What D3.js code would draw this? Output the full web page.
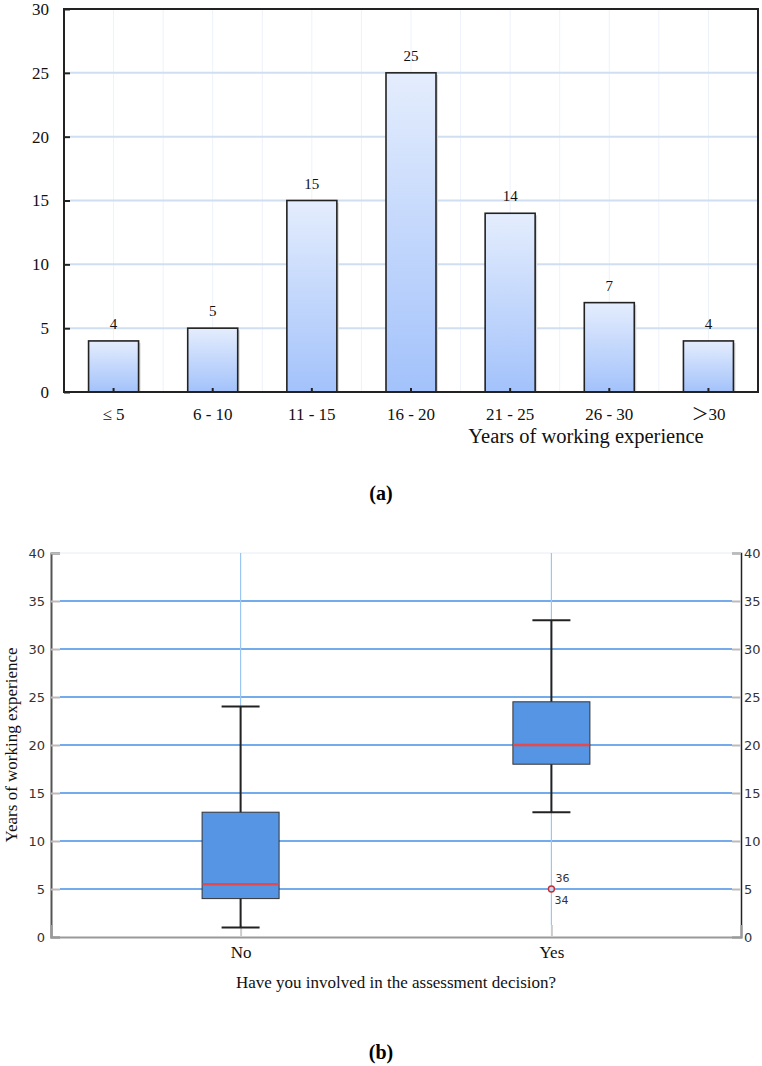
<!DOCTYPE html>
<html lang="en">
<head>
<meta charset="UTF-8">
<title>Years of working experience</title>
<script src="https://d3js.org/d3.v7.min.js"></script>
<style>
  body { margin: 0; background: #fff; }
  .serif { font-family: "Liberation Serif", "Times New Roman", serif; }
  .sans { font-family: "DejaVu Sans", sans-serif; }
</style>
</head>
<body>
<div id="chart"></div>
<script>
// (a) histogram of years of working experience
var expCats = ["≤ 5", "6 - 10", "11 - 15", "16 - 20", "21 - 25", "26 - 30", "＞30"];
var expCounts = [4, 5, 15, 25, 14, 7, 4];
var yTicksA = [0, 5, 10, 15, 20, 25, 30];

// (b) box plot by involvement in the assessment decision
var boxGroups = ["No", "Yes"];
var boxMin = [1, 13];
var boxQ1 = [4, 18];
var boxMed = [5.5, 20];
var boxQ3 = [13, 24.5];
var boxMax = [24, 33];
var outlierGroup = ["Yes"];
var outlierVal = [5];
var outlierIds = ["36", "34"];
var yTicksB = [0, 5, 10, 15, 20, 25, 30, 35, 40];

var svg = d3.select("#chart").append("svg")
    .attr("width", 762).attr("height", 1066);

var defs = svg.append("defs");
var grad = defs.append("linearGradient").attr("id", "barGrad")
    .attr("x1", 0).attr("y1", 0).attr("x2", 0).attr("y2", 1);
grad.append("stop").attr("offset", "0%").attr("stop-color", "#e4edfd");
grad.append("stop").attr("offset", "100%").attr("stop-color", "#a3c2fb");

// ---------- chart (a) ----------
var a = {left: 64, right: 758, top: 9, bottom: 392};

var xA = d3.scaleBand().domain(expCats).range([a.left, a.right]).padding(0);
var yA = d3.scaleLinear().domain([0, 30]).range([a.bottom, a.top]);
var bw = 50;

var gA = svg.append("g");

// faint vertical grid at every half band
var halfSteps = d3.range(0, expCats.length * 2 + 1);
gA.selectAll(".vgrid").data(halfSteps).enter().append("line")
    .attr("x1", function(d){ return a.left + d * xA.step() / 2; })
    .attr("x2", function(d){ return a.left + d * xA.step() / 2; })
    .attr("y1", a.top).attr("y2", a.bottom)
    .attr("stroke", "#edf2fa").attr("stroke-width", 1);

// horizontal grid
gA.selectAll(".hgrid").data(yTicksA.slice(1, -1)).enter().append("line")
    .attr("x1", a.left + 6).attr("x2", a.right)
    .attr("y1", function(d){ return yA(d); })
    .attr("y2", function(d){ return yA(d); })
    .attr("stroke", "#d0def2").attr("stroke-width", 2);

// faint shadow behind bars
gA.selectAll(".shadow").data(expCounts).enter().append("rect")
    .attr("x", function(d, i){ return xA(expCats[i]) + xA.bandwidth() / 2 - bw / 2 + 2; })
    .attr("y", function(d){ return yA(d) + 2; })
    .attr("width", bw)
    .attr("height", function(d){ return yA(0) - yA(d) - 2; })
    .attr("fill", "#d8d8d8");

// bars
gA.selectAll(".bar").data(expCounts).enter().append("rect")
    .attr("x", function(d, i){ return xA(expCats[i]) + xA.bandwidth() / 2 - bw / 2; })
    .attr("y", function(d){ return yA(d); })
    .attr("width", bw)
    .attr("height", function(d){ return yA(0) - yA(d); })
    .attr("fill", "url(#barGrad)")
    .attr("stroke", "#222").attr("stroke-width", 1.6);

// value labels
gA.selectAll(".val").data(expCounts).enter().append("text")
    .attr("class", "serif")
    .attr("x", function(d, i){ return xA(expCats[i]) + xA.bandwidth() / 2; })
    .attr("y", function(d){ return yA(d) - 12; })
    .attr("text-anchor", "middle")
    .attr("font-size", 15)
    .attr("fill", "#111")
    .text(function(d){ return d; });

// frame
gA.append("rect")
    .attr("x", a.left).attr("y", a.top)
    .attr("width", a.right - a.left).attr("height", a.bottom - a.top)
    .attr("fill", "none").attr("stroke", "#222").attr("stroke-width", 2);

// y axis
var yAxisA = d3.axisLeft(yA).tickValues(yTicksA).tickSize(-6).tickPadding(15);
var yAx = gA.append("g").attr("transform", "translate(" + a.left + ",0)").call(yAxisA);
yAx.select(".domain").remove();
yAx.selectAll(".tick line").attr("stroke", "#222").attr("stroke-width", 2);
yAx.selectAll("text").attr("class", "serif").attr("font-size", 17).attr("fill", "#111");

// x axis
var xAxisA = d3.axisBottom(xA).tickSize(-4).tickPadding(16);
var xAx = gA.append("g").attr("transform", "translate(0," + a.bottom + ")").call(xAxisA);
xAx.select(".domain").remove();
xAx.selectAll(".tick line").attr("stroke", "#222").attr("stroke-width", 2);
xAx.selectAll("text").attr("class", "serif").attr("font-size", 17).attr("fill", "#111")
    .style("font-family", "'Liberation Serif', 'Noto Sans CJK SC', serif");

gA.append("text").attr("class", "serif")
    .attr("x", 586).attr("y", 443)
    .attr("text-anchor", "middle").attr("font-size", 20.5).attr("fill", "#111")
    .text("Years of working experience");

svg.append("text").attr("class", "serif")
    .attr("x", 381).attr("y", 500)
    .attr("text-anchor", "middle").attr("font-size", 20).attr("font-weight", "bold")
    .text("(a)");

// ---------- chart (b) ----------
var b = {left: 51, right: 741, top: 553, bottom: 937};

var xB = d3.scalePoint().domain(boxGroups).range([b.left, b.right]).padding(0.61);
var yB = d3.scaleLinear().domain([0, 40]).range([b.bottom, b.top]);
var boxW = 77, capW = 38;

var gB = svg.append("g");

// top border
gB.append("line")
    .attr("x1", b.left).attr("x2", b.right)
    .attr("y1", b.top).attr("y2", b.top)
    .attr("stroke", "#e6eef8").attr("stroke-width", 1);

// horizontal grid
gB.selectAll(".hgrid").data(yTicksB.slice(1, -1)).enter().append("line")
    .attr("x1", b.left + 9).attr("x2", b.right - 9)
    .attr("y1", function(d){ return yB(d); })
    .attr("y2", function(d){ return yB(d); })
    .attr("stroke", "#74abeb").attr("stroke-width", 2);

// vertical grid at categories
gB.selectAll(".vgrid").data(boxGroups).enter().append("line")
    .attr("x1", function(d){ return xB(d); }).attr("x2", function(d){ return xB(d); })
    .attr("y1", b.top).attr("y2", b.bottom - 12)
    .attr("stroke", "#9cc6f2").attr("stroke-width", 1.2);

// left axis
var yAxisL = d3.axisLeft(yB).tickValues(yTicksB).tickSize(-9).tickPadding(6);
var lAx = gB.append("g").attr("transform", "translate(" + b.left + ",0)").call(yAxisL);
lAx.select(".domain").attr("stroke", "#555").attr("stroke-width", 2);
lAx.selectAll(".tick line").attr("stroke", "#bbb").attr("stroke-width", 2);
lAx.selectAll("text").attr("class", "sans").attr("font-size", 13).attr("fill", "#333");

// right axis
var yAxisR = d3.axisRight(yB).tickValues(yTicksB).tickSize(-9).tickPadding(3);
var rAx = gB.append("g").attr("transform", "translate(" + b.right + ",0)").call(yAxisR);
rAx.select(".domain").attr("stroke", "#222").attr("stroke-width", 1.5);
rAx.selectAll(".tick line").attr("stroke", "#bbb").attr("stroke-width", 2);
rAx.selectAll("text").attr("class", "sans").attr("font-size", 13).attr("fill", "#333");

// bottom axis
var xAxisB = d3.axisBottom(xB).tickSize(-12).tickPadding(9);
var bAx = gB.append("g").attr("transform", "translate(0," + b.bottom + ")").call(xAxisB);
bAx.select(".domain").attr("stroke", "#999").attr("stroke-width", 2);
bAx.selectAll(".tick line").attr("stroke", "#ccc").attr("stroke-width", 2);
bAx.selectAll("text").attr("class", "serif").attr("font-size", 17).attr("fill", "#111");

// whiskers
var idx = d3.range(boxGroups.length);
gB.selectAll(".whisk").data(idx).enter().append("line")
    .attr("x1", function(i){ return xB(boxGroups[i]); })
    .attr("x2", function(i){ return xB(boxGroups[i]); })
    .attr("y1", function(i){ return yB(boxMin[i]); })
    .attr("y2", function(i){ return yB(boxMax[i]); })
    .attr("stroke", "#222").attr("stroke-width", 2);
[boxMin, boxMax].forEach(function(arr){
    gB.selectAll(null).data(idx).enter().append("line")
        .attr("x1", function(i){ return xB(boxGroups[i]) - capW / 2; })
        .attr("x2", function(i){ return xB(boxGroups[i]) + capW / 2; })
        .attr("y1", function(i){ return yB(arr[i]); })
        .attr("y2", function(i){ return yB(arr[i]); })
        .attr("stroke", "#222").attr("stroke-width", 2);
});

// boxes
gB.selectAll(".box").data(idx).enter().append("rect")
    .attr("x", function(i){ return xB(boxGroups[i]) - boxW / 2; })
    .attr("y", function(i){ return yB(boxQ3[i]); })
    .attr("width", boxW)
    .attr("height", function(i){ return yB(boxQ1[i]) - yB(boxQ3[i]); })
    .attr("fill", "#5595e3").attr("stroke", "#333").attr("stroke-width", 1);

// medians
gB.selectAll(".med").data(idx).enter().append("line")
    .attr("x1", function(i){ return xB(boxGroups[i]) - boxW / 2 + 0.5; })
    .attr("x2", function(i){ return xB(boxGroups[i]) + boxW / 2 - 0.5; })
    .attr("y1", function(i){ return yB(boxMed[i]); })
    .attr("y2", function(i){ return yB(boxMed[i]); })
    .attr("stroke", "#e5484d").attr("stroke-width", 2.5);

// outlier
gB.selectAll(".out").data(outlierVal).enter().append("circle")
    .attr("cx", function(d, i){ return xB(outlierGroup[i]); })
    .attr("cy", function(d){ return yB(d); })
    .attr("r", 3)
    .attr("fill", "#c8d8f0").attr("stroke", "#c0303a").attr("stroke-width", 1.4);
gB.append("text").attr("class", "sans")
    .attr("x", xB(outlierGroup[0]) + 4).attr("y", yB(outlierVal[0]) - 7)
    .attr("font-size", 11).attr("fill", "#333").text(outlierIds[0]);
gB.append("text").attr("class", "sans")
    .attr("x", xB(outlierGroup[0]) + 3).attr("y", yB(outlierVal[0]) + 15)
    .attr("font-size", 11).attr("fill", "#333").text(outlierIds[1]);

// axis titles
gB.append("text").attr("class", "serif")
    .attr("transform", "translate(17," + (b.top + b.bottom) / 2 + ") rotate(-90)")
    .attr("text-anchor", "middle").attr("font-size", 17).attr("fill", "#111")
    .text("Years of working experience");
gB.append("text").attr("class", "serif")
    .attr("x", (b.left + b.right) / 2).attr("y", 988)
    .attr("text-anchor", "middle").attr("font-size", 17).attr("fill", "#111")
    .text("Have you involved in the assessment decision?");

svg.append("text").attr("class", "serif")
    .attr("x", 381).attr("y", 1059)
    .attr("text-anchor", "middle").attr("font-size", 20).attr("font-weight", "bold")
    .text("(b)");
</script>
</body>
</html>
